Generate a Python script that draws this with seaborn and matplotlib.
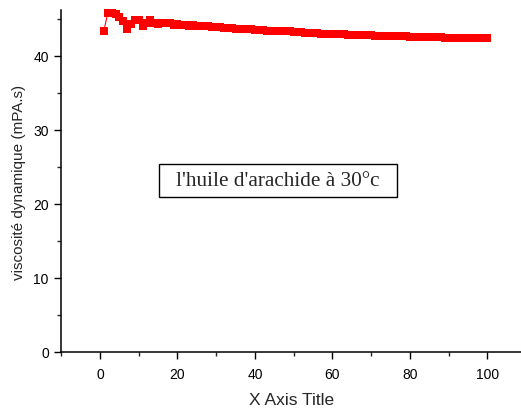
import matplotlib
matplotlib.use("Agg")
import matplotlib.pyplot as plt
import seaborn as sns
import pandas as pd
import numpy as np
from matplotlib.ticker import MultipleLocator
from matplotlib.patches import Rectangle

# measurement index (1..100)
x_vals = np.arange(1, 101)

# dynamic viscosity readings (mPa.s)
viscosity = [
    43.4, 45.8, 45.8, 45.7, 45.3, 44.7, 43.7, 44.3, 44.9, 44.9,
    44.0, 44.4, 44.8, 44.4, 44.3, 44.5, 44.5, 44.4, 44.2, 44.3,
    44.2, 44.2, 44.1, 44.2, 44.1, 44.0, 44.1, 44.0, 43.9, 43.9,
    43.9, 43.8, 43.8, 43.8, 43.7, 43.7, 43.6, 43.6, 43.6, 43.5,
    43.5, 43.5, 43.4, 43.4, 43.4, 43.3, 43.3, 43.3, 43.3, 43.2,
    43.2, 43.2, 43.1, 43.1, 43.1, 43.1, 43.0, 43.0, 43.0, 42.97,
    42.95, 42.93, 42.91, 42.89, 42.87, 42.85, 42.83, 42.81, 42.79, 42.77,
    42.75, 42.73, 42.72, 42.70, 42.69, 42.67, 42.66, 42.64, 42.63, 42.61,
    42.60, 42.58, 42.57, 42.55, 42.54, 42.52, 42.51, 42.50, 42.48, 42.47,
    42.46, 42.45, 42.43, 42.42, 42.41, 42.40, 42.39, 42.38, 42.37, 42.36,
]

x_ticks = [0, 20, 40, 60, 80, 100]
y_ticks = [0, 10, 20, 30, 40]

annotation = "l'huile d'arachide à 30°c"
x_title = "X Axis Title"
y_title = "viscosité dynamique (mPA.s)"

df = pd.DataFrame({"x": x_vals, "y": viscosity})

sns.set_style("ticks")
plt.rcParams["font.family"] = ["Liberation Sans", "DejaVu Sans"]

fig = plt.figure(figsize=(5.21, 4.10), dpi=100)
W, H = 521, 410
ax = fig.add_axes([61.3 / W, (H - 353) / H, (521 - 61.3) / W, (353 - 11) / H])

sns.lineplot(data=df, x="x", y="y", ax=ax, color="red", linewidth=0.8,
             marker="s", markersize=6.3, markeredgewidth=0, clip_on=False)

ax.set_xlim(-10, 108.7)
ax.set_ylim(0, 46.2)
ax.set_xticks(x_ticks)
ax.set_yticks(y_ticks)
ax.xaxis.set_minor_locator(MultipleLocator(10))
ax.yaxis.set_minor_locator(MultipleLocator(5))
ax.tick_params(which="major", direction="out", length=5, width=1, labelsize=10, colors="black", pad=4)
ax.tick_params(axis="x", which="major", pad=6)
ax.tick_params(which="minor", direction="out", length=3, width=1)

for s in ["top", "right"]:
    ax.spines[s].set_visible(False)
for s in ["left", "bottom"]:
    ax.spines[s].set_linewidth(1.1)
    ax.spines[s].set_color("black")

ax.set_xlabel(x_title, fontsize=12.5, labelpad=8)
ax.set_ylabel(y_title, fontsize=11, labelpad=5)

# framed caption
ax.add_patch(Rectangle((15.1, 21.0), 61.7, 4.4, facecolor="white", edgecolor="black",
                       linewidth=1, zorder=3))
ax.text(46.0, 23.2, annotation, fontsize=15.3, family=["Liberation Serif", "DejaVu Serif"],
        ha="center", va="center", zorder=4)

fig.savefig("out.png", dpi=100)
